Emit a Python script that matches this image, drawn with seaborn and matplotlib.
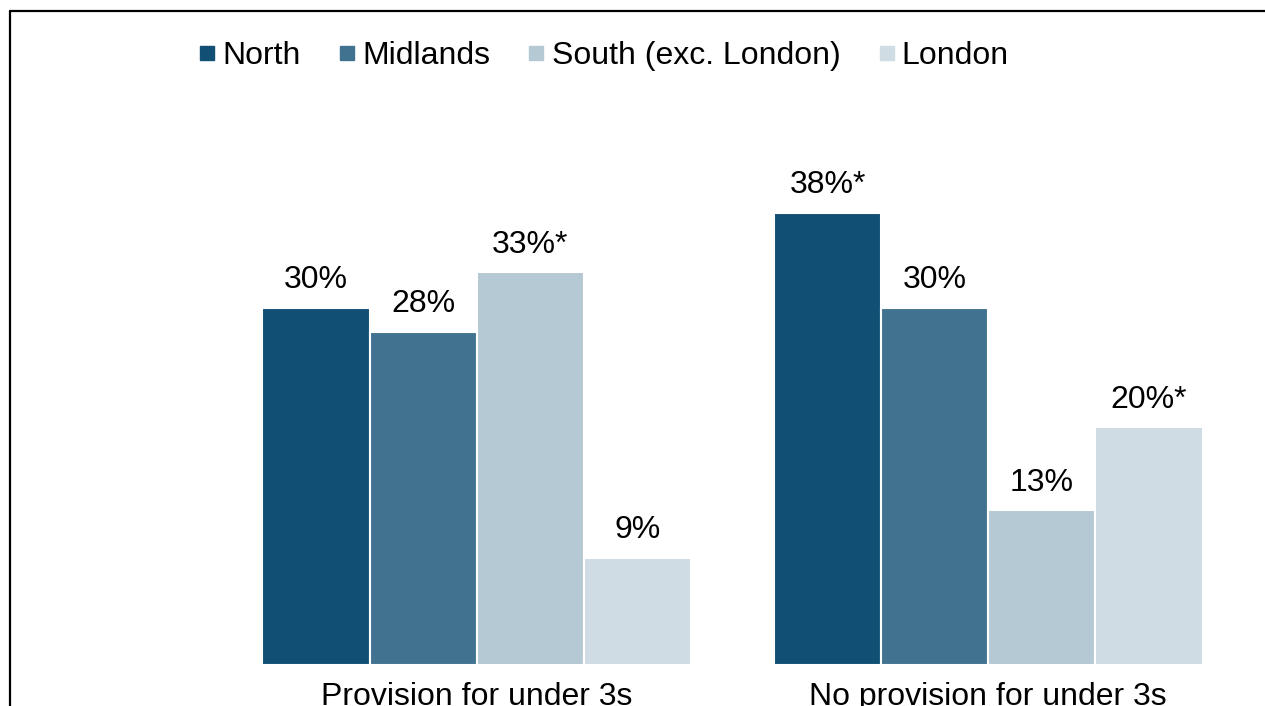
import matplotlib
matplotlib.use("Agg")
import matplotlib.pyplot as plt
from matplotlib.lines import Line2D
import seaborn as sns
import pandas as pd

# Share of settings by region, split by whether they offer provision for under 3s
groups = ["Provision for under 3s", "No provision for under 3s"]
regions = ["North", "Midlands", "South (exc. London)", "London"]
north = [30, 38]
midlands = [28, 30]
south = [33, 13]
london = [9, 20]
# significance markers shown next to the value labels
north_sig = ["", "*"]
midlands_sig = ["", ""]
south_sig = ["*", ""]
london_sig = ["", "*"]

colors = ["#124F75", "#417391", "#B5C9D4", "#CFDCE4"]

series = [north, midlands, south, london]
sigs = [north_sig, midlands_sig, south_sig, london_sig]
rows = []
for reg, vals in zip(regions, series):
    for g, v in zip(groups, vals):
        rows.append({"group": g, "region": reg, "value": v})
df = pd.DataFrame(rows)

sns.set_theme(style="white")
plt.rcParams["font.family"] = ["Liberation Sans", "DejaVu Sans"]
plt.rcParams["text.color"] = "black"

FS = 23
W, H = 1265, 706
fig = plt.figure(figsize=(W / 100, H / 100), dpi=100)
ax = fig.add_axes([221 / W, (H - 665) / H, 1023 / W, 535.5 / H])

sns.barplot(data=df, x="group", y="value", hue="region", order=groups,
            hue_order=regions, palette=colors, width=0.838, gap=0,
            edgecolor="white", linewidth=1.5, saturation=1, ax=ax,
            legend=False)

for cont, vals, sg in zip(ax.containers, series, sigs):
    ax.bar_label(cont, labels=[f"{v}%{s}" for v, s in zip(vals, sg)],
                 padding=9, fontsize=FS, color="black")

ax.set_xlim(-0.5, 1.5)
ax.set_ylim(0, 45)
ax.set_xlabel("")
ax.set_ylabel("")
ax.set_yticks([])
ax.tick_params(axis="x", length=0, pad=12, labelsize=FS, labelcolor="black")
for s in ax.spines.values():
    s.set_visible(False)

handles = [Line2D([], [], marker="s", linestyle="none", markersize=9.5,
                  markerfacecolor=c, markeredgecolor=c) for c in colors]
leg = fig.legend(handles, regions, loc="center",
                 bbox_to_anchor=(604.5 / W, 1 - 56 / H),
                 ncol=4, frameon=False, fontsize=FS, handlelength=0.45,
                 handletextpad=0.25, columnspacing=1.22, borderpad=0)
for t in leg.get_texts():
    t.set_color("black")

# frame along the left and top edges
fig.add_artist(Line2D([9.5 / W, 9.5 / W], [-0.05, 1 - 11 / H], color="black",
                      linewidth=1.6, transform=fig.transFigure))
fig.add_artist(Line2D([9.5 / W, 1.05], [1 - 11 / H, 1 - 11 / H], color="black",
                      linewidth=1.6, transform=fig.transFigure))

fig.savefig("out.png", dpi=100)
